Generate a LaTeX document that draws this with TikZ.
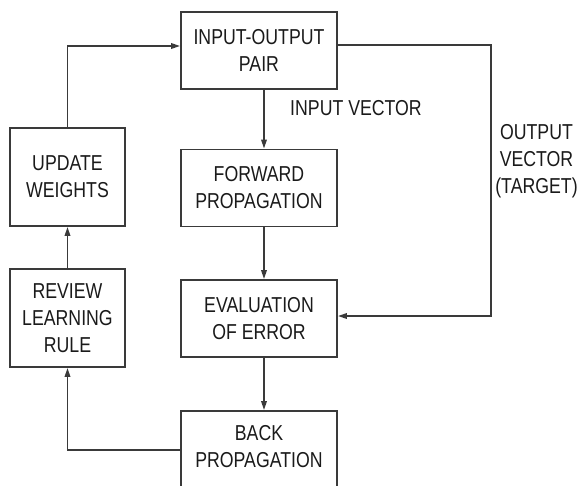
\documentclass[tikz,border=0pt]{standalone}
\usepackage{fontspec}
\setmainfont{Liberation Sans}[FakeStretch=0.82]
\usetikzlibrary{arrows.meta}
\definecolor{chartink}{HTML}{1A1A1A}
\definecolor{chartline}{HTML}{3A3A3A}

\begin{document}
\begin{tikzpicture}[x=1pt, y=-1pt, >={Triangle[length=9pt,width=5.5pt]},
                    every node/.style={chartink, align=center,
                                       font=\fontsize{21.6}{27}\selectfont},
                    flowbox/.style={draw=chartline, line width=1.8pt, inner sep=0pt},
                    midbox/.style={flowbox, minimum width=156pt, minimum height=77pt},
                    sidebox/.style={flowbox, minimum width=115pt, minimum height=98pt},
                    link/.style={draw=chartline, line width=1.8pt}]

\clip (0,0) rectangle (584,485);

%% ==== 中間一列: 主流程 ==============================================
\node[midbox] (pair) at (259,50.75) {INPUT-OUTPUT\\PAIR};
\node[midbox] (fwd)  at (259,188)   {FORWARD\\PROPAGATION};
\node[midbox] (eval) at (259,318.5) {EVALUATION\\OF ERROR};
%% 最下框被圖的下緣切掉, 文字略偏框的上半
\node[midbox, minimum height=78pt, text depth=8pt] (back) at (259,450) {BACK\\PROPAGATION};

%% ==== 左側一列: 權重的更新 ==========================================
\node[sidebox] (update) at (67.5,177) {UPDATE\\WEIGHTS};
\node[sidebox] (review) at (67.5,318) {REVIEW\\LEARNING\\RULE};

%% 連線上的文字
\node (invec)  at (356,108)   {INPUT VECTOR};
\node (target) at (536.5,161) {OUTPUT\\VECTOR\\(TARGET)};

%% 中間向下的箭頭, 略偏框的中線右方
\draw[link, ->] ([xshift=5pt]pair.south) -- ([xshift=5pt]fwd.north);
\draw[link, ->] ([xshift=5pt]fwd.south)  -- ([xshift=5pt]eval.north);
\draw[link, ->] ([xshift=5pt]eval.south) -- ([xshift=5pt]back.north);

%% 右側: 目標輸出送往誤差評估
\coordinate (rightturn) at (491,316);
\draw[link, ->] ([yshift=5.5pt]pair.east) -| (rightturn) -- ([yshift=2.5pt]eval.east);

%% 左側回饋迴路
\draw[link, ->] (back.west) -| (review.south);
\draw[link, ->] (review.north) -- (update.south);
\draw[link, ->] (update.north) |- ([yshift=4.75pt]pair.west);

\end{tikzpicture}
\end{document}
